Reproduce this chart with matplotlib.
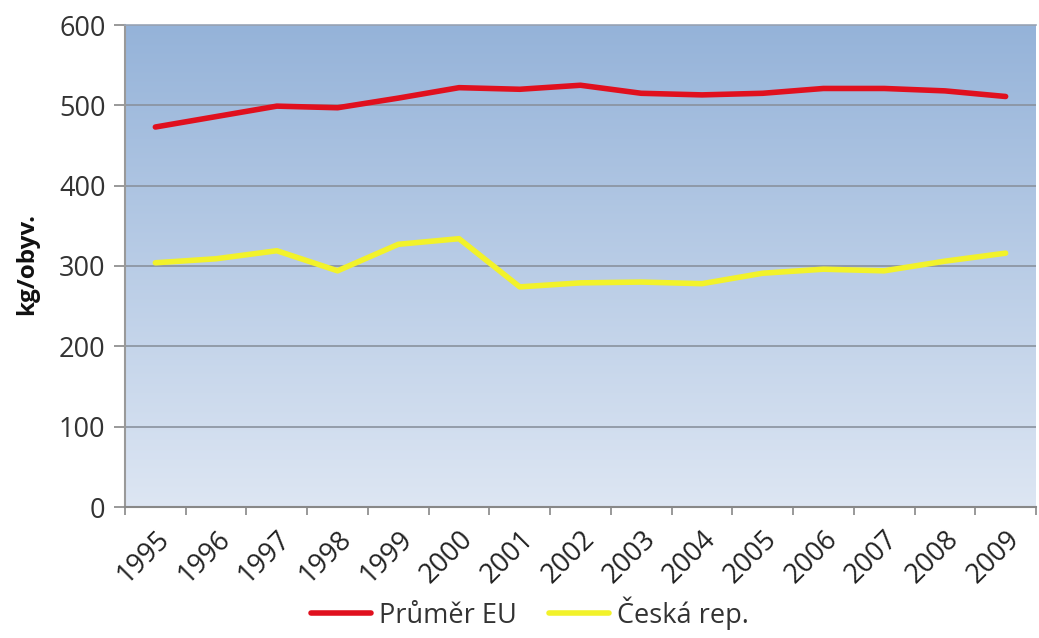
import matplotlib
matplotlib.use("Agg")
import matplotlib.pyplot as plt
import numpy as np
from matplotlib.colors import LinearSegmentedColormap

years = ["1995", "1996", "1997", "1998", "1999", "2000", "2001", "2002",
         "2003", "2004", "2005", "2006", "2007", "2008", "2009"]
eu_avg = [473, 486, 499, 497, 509, 522, 520, 525, 515, 513, 515, 521, 521, 518, 511]
cz = [304, 309, 319, 294, 327, 334, 274, 279, 280, 278, 291, 296, 294, 306, 316]
yticks = [0, 100, 200, 300, 400, 500, 600]

plt.rcParams['font.family'] = ['Open Sans', 'DejaVu Sans']

W, H = 1039, 638
fig = plt.figure(figsize=(W / 100, H / 100), dpi=100)
left, right, top, bottom = 125, 1036, 25, 507
ax = fig.add_axes([left / W, 1 - bottom / H, (right - left) / W, (bottom - top) / H])

x = np.arange(len(years))
ax.set_xlim(-0.5, 14.3)
ax.set_ylim(0, 600)

# gradient background
cmap = LinearSegmentedColormap.from_list("bg", ["#dde6f3", "#95b3d9"])
grad = np.linspace(0, 1, 256).reshape(-1, 1)
ax.imshow(grad, aspect='auto', cmap=cmap, origin='lower',
          extent=[0, 1, 0, 1], transform=ax.transAxes, zorder=0)

for yv in yticks[1:]:
    ax.axhline(yv, color='#8a929e', lw=1.2, zorder=1)

ax.plot(x, eu_avg, color='#e0101e', lw=4.0, zorder=3, label='Průměr EU',
        solid_joinstyle='round', solid_capstyle='round')
ax.plot(x, cz, color='#f2f22a', lw=4.0, zorder=3, label='Česká rep.',
        solid_joinstyle='round', solid_capstyle='round')

ax.set_yticks(yticks)
ax.set_yticklabels([str(v) for v in yticks], fontsize=19.5, color='#333333')
ax.set_xticks(x)
ax.set_xticklabels(years, rotation=45, ha='right', va='top',
                   rotation_mode='anchor', fontsize=19.5, color='#222222')
ax.tick_params(axis='x', which='major', length=0, pad=13)
ax.set_xticks(np.arange(-0.5, 14.6, 1), minor=True)
ax.tick_params(axis='x', which='minor', length=6, color='#888888', width=1.2)
ax.tick_params(axis='y', length=8, color='#888888', width=1.2, pad=6)

ax.spines['right'].set_visible(False)
ax.spines['top'].set_color('#9aa6b8')
ax.spines['top'].set_linewidth(1.2)
ax.spines['left'].set_color('#999999')
ax.spines['left'].set_linewidth(1.5)
ax.spines['bottom'].set_color('#888888')
ax.spines['bottom'].set_linewidth(1.5)

fig.text(27 / W, 1 - 264 / H, 'kg/obyv.', rotation=90, fontsize=17.5,
         fontweight='bold', ha='center', va='center', color='#111111')

fig.legend(loc='lower center', ncol=2, frameon=False, fontsize=19.5,
           bbox_to_anchor=(530 / W, -0.025), handlelength=2.2, columnspacing=1.2,
           handletextpad=0.3, labelcolor='#333333')

fig.savefig('out.png', dpi=100)
